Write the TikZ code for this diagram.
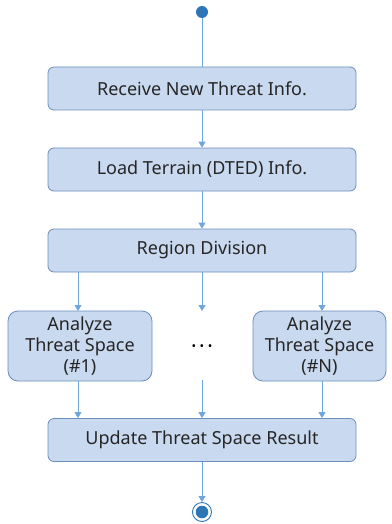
\documentclass[tikz,border=0pt]{standalone}
\usepackage{fontspec}
\setmainfont{Noto Sans}
\usetikzlibrary{arrows.meta}
\definecolor{boxfill}{RGB}{201,217,239}
\definecolor{boxline}{RGB}{108,142,190}
\definecolor{flow}{RGB}{110,165,220}
\definecolor{dot}{RGB}{46,117,182}
\begin{document}
\begin{tikzpicture}[x=1pt,y=-1pt,
  stepbox/.style={draw=boxline,fill=boxfill,rounded corners=6pt,line width=0.8pt,
    minimum width=308pt,minimum height=43pt,font=\fontsize{18}{21}\selectfont,text=black!85,inner sep=0pt},
  smallbox/.style={draw=boxline,fill=boxfill,rounded corners=10pt,line width=0.8pt,
    minimum height=70pt,font=\fontsize{18}{21}\selectfont,text=black!85,inner sep=0pt,align=center},
  flowline/.style={draw=flow,line width=0.9pt,-{Triangle[length=6pt,width=7pt]}}]
\useasboundingbox (0,0) rectangle (391,524);
% start and end markers
\node[circle,fill=dot,minimum size=12pt,inner sep=0pt] (start) at (202,12) {};
\node[circle,draw=dot,line width=0.9pt,minimum size=19pt,inner sep=0pt] (stop) at (202,512) {};
\fill[dot] (stop.center) circle (6.3pt);
% activity boxes
\node[stepbox] (recv) at (202,88.5) {Receive New Threat Info.};
\node[stepbox] (load) at (202,169.5) {Load Terrain (DTED) Info.};
\node[stepbox] (region) at (202,250.5) {Region Division};
\node[smallbox,minimum width=144pt] (a1) at (80,346) {Analyze\\Threat Space\\(\#1)};
\node[smallbox,minimum width=133pt] (aN) at (319.5,346) {Analyze\\Threat Space\\(\#N)};
\node[font=\fontsize{12}{12}\selectfont,inner sep=0pt] (dots) at (202,348)
  {\textbullet\kern3.5pt\textbullet\kern3.5pt\textbullet};
\node[stepbox] (upd) at (202,440) {Update Threat Space Result};
% flow
\draw[draw=flow,line width=0.9pt] (start) -- (recv);
\draw[flowline] (recv) -- (load);
\draw[flowline] (load) -- (region);
\coordinate (ctop) at (202,311);
\coordinate (cbot) at (202,380);
\coordinate (ltop) at (78,311);
\coordinate (rtop) at (322,311);
\coordinate (lbot) at (78,418);
\coordinate (rbot) at (322,418);
\draw[flowline] (region.south -| ltop) -- (ltop);
\draw[flowline] (region.south -| rtop) -- (rtop);
\draw[flowline] (region) -- (ctop);
\draw[flowline] (cbot) -- (upd);
\draw[flowline] (a1.south -| lbot) -- (lbot);
\draw[flowline] (aN.south -| rbot) -- (rbot);
\draw[flowline] (upd) -- (stop);
\end{tikzpicture}
\end{document}
